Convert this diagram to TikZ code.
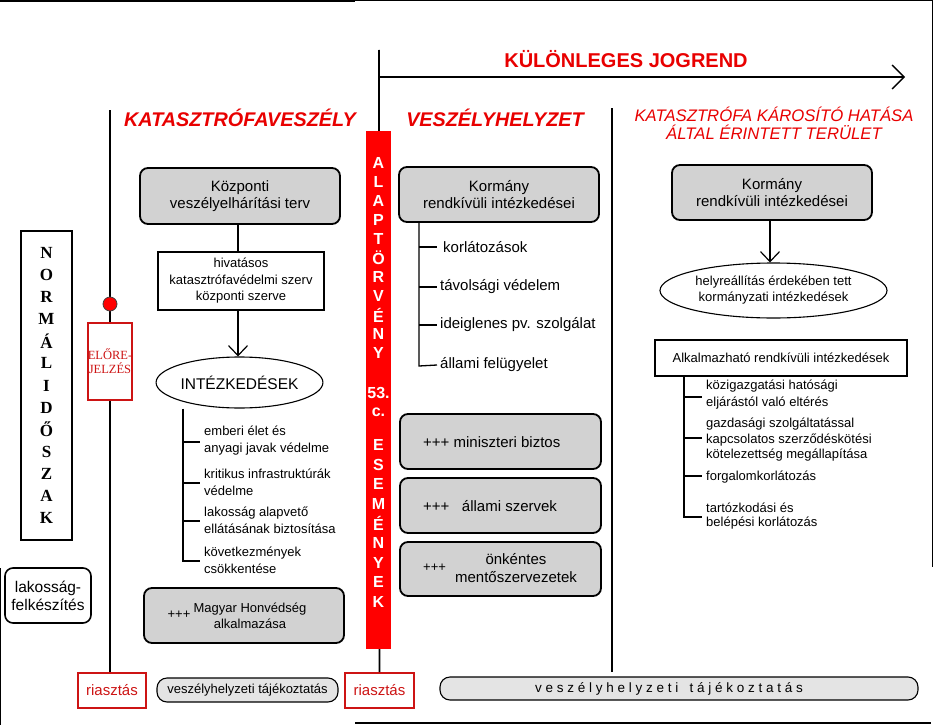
\documentclass[tikz,border=0pt]{standalone}
\usepackage{fontspec}
\setmainfont{Liberation Sans}
\newfontfamily\serifface{Liberation Serif}
\usetikzlibrary{arrows.meta,shapes.geometric}
\definecolor{hred}{RGB}{232,0,0}
\definecolor{bred}{RGB}{205,20,20}
\definecolor{boxgray}{RGB}{210,210,210}
\definecolor{lgray}{RGB}{228,228,228}
\newcommand\fs[2]{\fontsize{#1}{#2}\selectfont}
\begin{document}
\begin{tikzpicture}[x=1pt,y=-1pt,
  graybox/.style={draw, line width=1.8pt, fill=boxgray, rounded corners=8pt, align=center, inner sep=0pt, font=\fs{15}{17}},
  plainbox/.style={draw, line width=1.6pt, fill=white, align=center, inner sep=0pt},
  redbox/.style={draw=bred, line width=1.8pt, fill=white, text=bred, inner sep=0pt, align=center},
  pill/.style={draw, line width=1.1pt, fill=lgray, rounded corners=10pt, inner sep=0pt, font=\fs{13}{15}},
  oval/.style={ellipse, draw, line width=1.1pt, fill=white, inner sep=0pt, align=center},
  item/.style={anchor=west, align=left, inner sep=0pt},
  heading/.style={text=hred, inner sep=0pt, align=center},
  thick line/.style={line width=1.8pt},
  tree/.style={line width=1.3pt},
  barb/.style={-{Straight Barb[length=10pt,width=19pt,line width=1.2pt]}},
  barletter/.style={text=white, font=\fs{16}{16}\bfseries, inner sep=0pt},
  normletter/.style={font=\serifface\fs{17}{17}\bfseries, inner sep=0pt}
]
\useasboundingbox (0,0) rectangle (934,725);

% frame fragments of the screenshot
\draw[line width=2.6pt] (0,1) -- (355,1);
\draw[line width=1pt] (355,1) -- (932,1) -- (932,567);
\draw[line width=1.4pt] (355,723) -- (931,723);
\draw[line width=2pt] (0,568) -- (0,725);

% KÜLÖNLEGES JOGREND arrow
\coordinate (vtop) at (379,50);
\coordinate (jstart) at (379,77);
\coordinate (jend) at (905,77);
\draw[thick line, -{Straight Barb[length=12pt,width=24pt,line width=1.4pt]}] (jstart) -- (jend);
\node[heading, font=\fs{20}{22}\bfseries] (hkul) at (626,59) {KÜLÖNLEGES JOGREND};

% headings
\node[heading, font=\fs{19.8}{22}\bfseries\itshape] (hkat) at (240,118) {KATASZTRÓFAVESZÉLY};
\node[heading, font=\fs{19.8}{22}\bfseries\itshape] (hvesz) at (495,118) {VESZÉLYHELYZET};
\node[heading, font=\fs{16.7}{18}\itshape] (hter) at (774,123) {KATASZTRÓFA KÁROSÍTÓ HATÁSA\\ÁLTAL ÉRINTETT TERÜLET};

% bottom row
\node[redbox, minimum width=68pt, minimum height=35pt, font=\fs{15}{17}] (ria1) at (112,690.5) {riasztás};
\node[redbox, minimum width=69pt, minimum height=35pt, font=\fs{15}{17}] (ria2) at (379.5,690.5) {riasztás};
\node[pill, minimum width=181pt, minimum height=24pt] (vt1) at (247.5,690) {veszélyhelyzeti tájékoztatás};
\node[pill, minimum width=478pt, minimum height=23pt] (vt2) at (679,688.5) {};
\node[inner sep=0pt, font=\fs{13.5}{15}] (vt2t) at (669,689) {v e s z é l y h e l y z e t i \ \ t á j é k o z t a t á s};

% vertical lines
\coordinate (ltop) at (110,110);
\draw[thick line] (ltop) -- (ltop |- ria1.north);
\coordinate (dtop) at (612,108);
\coordinate (dbot) at (612,672);
\draw[thick line] (dtop) -- (dbot);
\draw[thick line] (vtop) -- (ria2.north);

% red bar
\node[fill=red, minimum width=25pt, minimum height=518pt, inner sep=0pt] (rbar) at (378.5,390) {};
\foreach \ch [count=\i] in {A,L,A,P,T,Ö,R,V,É,N,Y}
  \node[barletter] (rbA\i) at ({378.5},{163+19*(\i-1)}) {\ch};
\node[barletter] (rb53) at (378.5,393) {53.};
\node[barletter] (rbc) at (378.5,412) {c.};
\foreach \ch [count=\i] in {E,S,E,M,É,N,Y,E,K}
  \node[barletter] (rbE\i) at ({378.5},{445+19.6*(\i-1)}) {\ch};

% NORMÁLIDŐSZAK
\node[draw, line width=1.8pt, minimum width=51pt, minimum height=309pt, inner sep=0pt] (norm) at (46.5,385.5) {};
\foreach \ch [count=\i] in {N,O,R,M,Á,L,I,D,Ő,S,Z,A,K}
  \node[normletter] (nl\i) at ({46.5},{253+22.08*(\i-1)}) {\ch};

% lakosság-felkészítés
\node[draw, line width=1.6pt, rounded corners=8pt, minimum width=86pt, minimum height=55pt, inner sep=0pt, align=center, font=\fs{15.5}{18}] (lak) at (48,595.5) {lakosság-\\felkészítés};

% előrejelzés
\node[circle, fill=red, draw=black!75, line width=0.8pt, minimum size=14pt, inner sep=0pt] (dot) at (110,304) {};
\node[redbox, minimum width=44pt, minimum height=77pt, font=\serifface\fs{12.5}{14}] (elo) at (110,361.5) {ELŐRE-\\JELZÉS};

% left column
\node[graybox, minimum width=200pt, minimum height=56pt] (kvt) at (240,196) {Központi\\veszélyelhárítási terv};
\node[plainbox, minimum width=166pt, minimum height=58pt, font=\fs{13}{16.5}] (hiv) at (241,281) {hivatásos\\katasztrófavédelmi szerv\\központi szerve};
\node[oval, minimum width=161pt, minimum height=51pt, font=\fs{15.5}{17}] (intez) at (239.5,382.5) {INTÉZKEDÉSEK};
\draw[thick line] (kvt.south -| 238,0) -- (hiv.north -| 238,0);
\draw[thick line, barb] (hiv.south -| 238,0) -- (intez.north -| 238,0);

\node[item, font=\fs{13}{17}] (l1) at (204,440.5) {emberi élet és\\anyagi javak védelme};
\node[item, font=\fs{13}{17}] (l2) at (204,482.5) {kritikus infrastruktúrák\\védelme};
\node[item, font=\fs{13}{17}] (l3) at (204,520) {lakosság alapvető\\ellátásának biztosítása};
\node[item, font=\fs{13}{17}] (l4) at (204,560.5) {következmények\\csökkentése};
\coordinate (ltr) at (183,561);
\draw[tree] (intez.south -| ltr) -- (ltr) -- ++(17,0);
\foreach \n/\y in {l1/442,l2/483,l3/521}
  \draw[tree] (183,\y) -- (200,\y);

\node[graybox, minimum width=200pt, minimum height=55pt] (mh) at (244,615.5) {};
\node[inner sep=0pt, font=\fs{13}{15}] (mhp) at (179,615) {+++};
\node[inner sep=0pt, align=center, font=\fs{13}{16}] (mht) at (250,616) {Magyar Honvédség\\alkalmazása};

% middle column
\node[graybox, minimum width=200pt, minimum height=55pt] (kor1) at (499,194.5) {Kormány\\rendkívüli intézkedései};
\node[item, font=\fs{15}{17}] (m1) at (443,247) {korlátozások};
\node[item, font=\fs{15}{17}] (m2) at (440,287) {távolsági védelem};
\node[item, font=\fs{15}{17}] (m3) at (440,325) {ideiglenes pv. szolgálat};
\node[item, font=\fs{15}{17}] (m4) at (440,365) {állami felügyelet};
\coordinate (mtr) at (419,366);
\draw[tree] (kor1.south -| mtr) -- (mtr) -- (m4.west -| 437,0);
\draw[tree] (m1.west -| mtr) -- (m1.west -| 437,0);
\draw[tree] (m2.west -| mtr) -- (m2.west -| 437,0);
\draw[tree] (m3.west -| mtr) -- (m3.west -| 437,0);

\node[graybox, minimum width=201pt, minimum height=55pt] (min) at (500.5,441.5) {};
\node[item, font=\fs{15}{17}] (mint) at (423,442) {+++ miniszteri biztos};
\node[graybox, minimum width=201pt, minimum height=55pt] (allsz) at (500.5,505.5) {};
\node[item, font=\fs{15}{17}] (allt) at (423,506) {+++ \ \ állami szervek};
\node[graybox, minimum width=201pt, minimum height=54pt] (onk) at (500.5,569) {};
\node[item, font=\fs{13}{15}] (onkp) at (423,568) {+++};
\node[inner sep=0pt, align=center, font=\fs{15}{18}] (onkt) at (516,568) {önkéntes\\mentőszervezetek};

% right column
\node[graybox, minimum width=200pt, minimum height=55pt] (kor2) at (772,192.5) {Kormány\\rendkívüli intézkedései};
\node[oval, minimum width=227pt, minimum height=55pt, font=\fs{13}{16}] (hely) at (773.5,290.5) {helyreállítás érdekében tett\\kormányzati intézkedések};
\draw[thick line, barb] (kor2.south -| 770,0) -- (hely.north -| 770,0);
\node[plainbox, line width=1.2pt, minimum width=252pt, minimum height=36pt, font=\fs{13}{15}] (alk) at (781,358) {Alkalmazható rendkívüli intézkedések};

\node[item, font=\fs{13}{17}] (r1) at (706,395) {közigazgatási hatósági\\eljárástól való eltérés};
\node[item, font=\fs{13}{15.5}] (r2) at (706,440) {gazdasági szolgáltatással\\kapcsolatos szerződéskötési\\kötelezettség megállapítása};
\node[item, font=\fs{13}{15}] (r3) at (706,477) {forgalomkorlátozás};
\node[item, font=\fs{13}{14}] (r4) at (706,516.5) {tartózkodási és\\belépési korlátozás};
\coordinate (rtr) at (684,517);
\draw[tree] (alk.south -| rtr) -- (rtr) -- ++(18,0);
\foreach \y in {397,438,476}
  \draw[tree] (684,\y) -- (702,\y);

\end{tikzpicture}
\end{document}
